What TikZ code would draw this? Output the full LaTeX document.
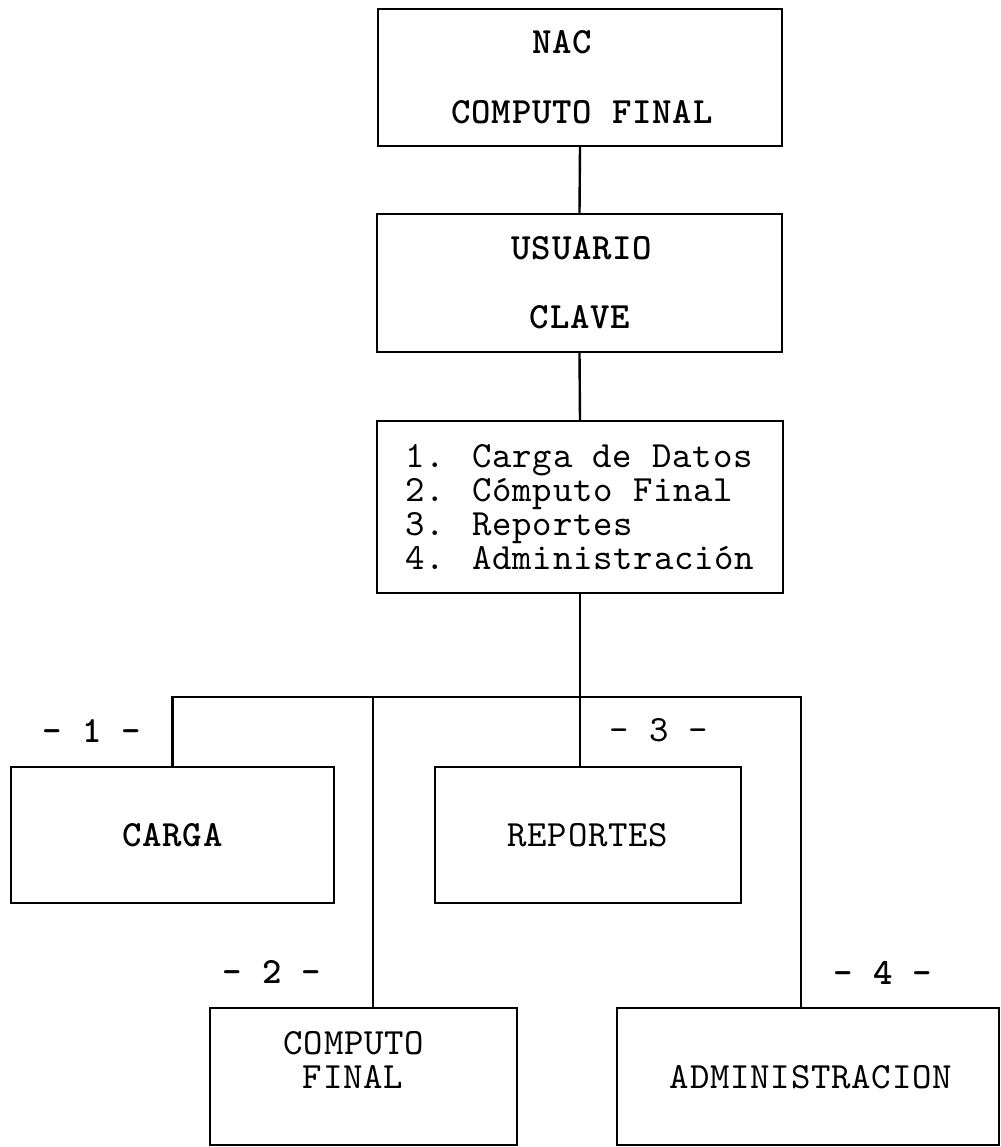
\documentclass[tikz,border=0pt]{standalone}
\usepackage{fontspec}
% typewriter face with a slightly wider pitch
\newfontfamily\tw[LetterSpace=2.1, BoldFont=lmmonolt10-bold.otf]{lmmono10-regular.otf}
\begin{document}
\begin{tikzpicture}[x=0.5pt,y=-0.5pt,
  font=\tw\fontsize{18.5pt}{17pt}\selectfont,
  box/.style={draw, line width=1.2pt, inner sep=0pt, rectangle},
  txt/.style={inner sep=0pt, anchor=center},
  bold/.style={font=\tw\bfseries\fontsize{18.5pt}{17pt}\selectfont},
  link/.style={line width=1.2pt}]
\useasboundingbox (0,0) rectangle (1001,1147);

% upper chain of boxes
\node[box, minimum width=202pt, minimum height=68.5pt] (nac) at (580,77.5) {};
\node[txt, bold] (nacT) at (562,42) {NAC};
\node[txt, bold] (nacC) at (582,112) {COMPUTO FINAL};

\node[box, minimum width=202.5pt, minimum height=69pt] (usr) at (579.5,283) {};
\node[txt, bold] (usrU) at (582,248) {USUARIO};
\node[txt, bold] (usrC) at (580,317) {CLAVE};

\node[box, minimum width=203pt, minimum height=86pt, align=left] (menu) at (580,507)
  {1. Carga de Datos\\2. Cómputo Final\\3. Reportes\\4. Administración};

% option boxes
\node[box, bold, minimum width=161.5pt, minimum height=68pt] (carga) at (172.5,835) {CARGA};
\node[box, minimum width=153pt, minimum height=68pt] (rep) at (588,835) {REPORTES};
\node[box, minimum width=153.5pt, minimum height=68.5pt] (comp) at (363.5,1076.5) {};
\node[txt] (compA) at (354,1043) {COMPUTO};
\node[txt] (compB) at (353,1077) {FINAL};
\node[box, minimum width=191pt, minimum height=68.5pt] (adm) at (808,1076.5) {};
\node[txt] (admT) at (811,1077) {ADMINISTRACION};

% option numbers
\node[txt, bold] (n1) at (92,731) {- 1 -};
\node[txt, bold] (n2) at (272,972) {- 2 -};
\node[txt] (n3) at (659,730) {- 3 -};
\node[txt, bold] (n4) at (883,973) {- 4 -};

% connectors
\coordinate (hl) at (172.5,697);
\coordinate (hr) at (801,697);
\coordinate (h2) at (373,697);
\draw[link] (nac.south) -- (usr.north);
\draw[link] (usr.south) -- (menu.north);
\draw[link] (menu.south) -- (menu.south |- rep.north);
\draw[link] (carga.north) -- (hl) -- (hr) -- (hr |- adm.north);
\draw[link] (h2) -- (h2 |- comp.north);
\end{tikzpicture}
\end{document}
